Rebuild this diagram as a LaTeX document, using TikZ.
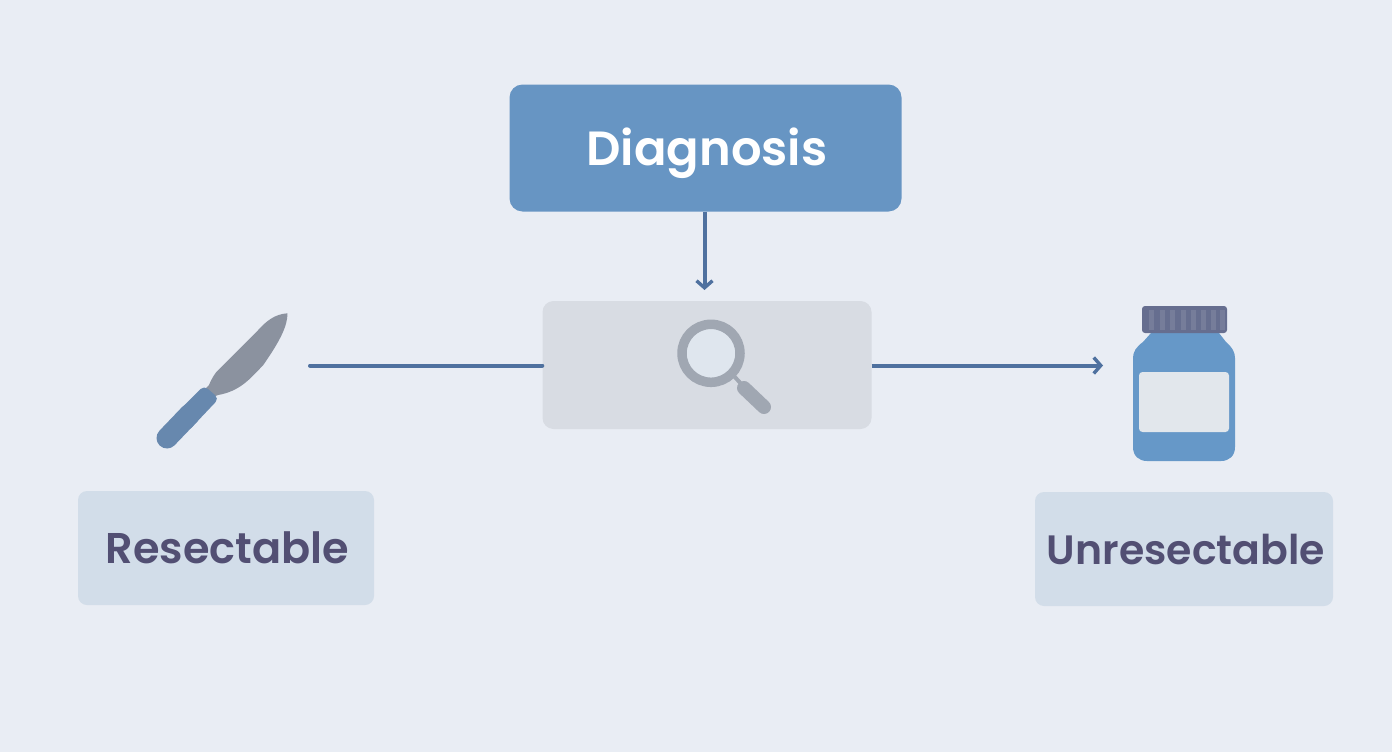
\documentclass[tikz,border=0pt]{standalone}
\usepackage{fontspec}
\setmainfont[BoldFont={Poppins SemiBold}]{Poppins}
\usetikzlibrary{arrows.meta}
\definecolor{bgc}{HTML}{E9EDF4}
\definecolor{diagc}{HTML}{6795C3}
\definecolor{midc}{HTML}{D8DCE3}
\definecolor{boxc}{HTML}{D2DDE9}
\definecolor{inkc}{HTML}{524F73}
\definecolor{linec}{HTML}{4F719F}
\definecolor{bladec}{HTML}{8B929F}
\definecolor{handc}{HTML}{6788AE}
\definecolor{bodyc}{HTML}{6698C8}
\definecolor{capc}{HTML}{666E8F}
\definecolor{capd}{HTML}{7D849F}
\definecolor{labc}{HTML}{E2E7EC}
\definecolor{glassc}{HTML}{A0A7B2}
\definecolor{lensc}{HTML}{DFE6EE}
\tikzset{
  x=1pt,y=-1pt,
  box/.style={draw=none,minimum width=#1,inner sep=0pt,rounded corners=9pt},
  conn/.style={draw=linec,line width=4pt,line cap=round},
  barb/.style={-{Straight Barb[length=7pt,width=16pt,line width=3.4pt]}}
}
\begin{document}
\begin{tikzpicture}
\fill[bgc] (0,0) rectangle (1392,752);
\useasboundingbox (0,0) rectangle (1392,752);

\node[box=392pt,minimum height=127pt,fill=diagc,rounded corners=13pt] (diag) at (705.5,148) {};
\node[text=white,font=\fontsize{48}{48}\selectfont\bfseries,anchor=base] (diagt) at (707,165) {Diagnosis};
\node[box=329pt,minimum height=128pt,fill=midc,rounded corners=11pt] (mid) at (707,365) {};
\node[box=296pt,minimum height=114pt,fill=boxc] (res) at (226,548) {};
\node[text=inkc,font=\fontsize{43}{43}\selectfont\bfseries,anchor=base] (rest) at (227.5,563) {Resectable};
\node[box=298pt,minimum height=114pt,fill=boxc] (unres) at (1184,549) {};
\node[text=inkc,font=\fontsize{41}{41}\selectfont\bfseries,anchor=base] (unrest) at (1186,564) {Unresectable};

% connectors
\coordinate (scalpelend) at (310,365.5);
\coordinate (bottleend) at (1103,365.5);
\coordinate (diagfoot) at (704.5,290);
\draw[conn,barb,line cap=butt] (diag.south -| diagfoot) -- (diagfoot);
\draw[conn] (scalpelend) -- (mid.west |- scalpelend);
\draw[conn,barb,line cap=butt] (mid.east |- bottleend) -- (bottleend);

% magnifier
\draw[glassc,line width=4pt] (733,375) -- (744,387);
\draw[glassc,line width=14pt,line cap=round] (744,388) -- (764,407);
\draw[glassc,fill=lensc,line width=9.5pt] (711,353.3) circle (29);

% scalpel
\fill[bladec] (209,385) .. controls (212,378) and (215,373) .. (218.3,370)
  -- (256.7,331.7) .. controls (266,321) and (275,314) .. (287.5,313.3)
  .. controls (287.5,326) and (280,341) .. (263.3,365)
  .. controls (250,379) and (240,391) .. (218.3,395) -- (210,398) -- (204,390) -- cycle;
\draw[handc,line width=21pt,line cap=round] (167,438) -- (190,414);
\fill[handc,rounded corners=5pt] (204,385.5) -- (219,398.5) -- (187.5,431.8) -- (172.5,417.2) -- cycle;

% bottle
\fill[bodyc] (1151,333) -- (1219,333) -- (1226,342)
  .. controls (1232,347) and (1235,352) .. (1235,358)
  -- (1235,447) .. controls (1235,456) and (1229,461) .. (1221,461)
  -- (1147,461) .. controls (1139,461) and (1133,456) .. (1133,447)
  -- (1133,358) .. controls (1133,352) and (1136,347) .. (1143,342) -- cycle;
\fill[capc,rounded corners=3pt] (1142,306) rectangle (1227,333);
\foreach \sx in {1149,1159.5,1170,1180.5,1191,1201,1211,1220}
  \fill[capd,opacity=.7] (\sx,310) rectangle ++(5,20);
\fill[labc,rounded corners=3.5pt] (1139,372) rectangle (1229,432);
\end{tikzpicture}
\end{document}
